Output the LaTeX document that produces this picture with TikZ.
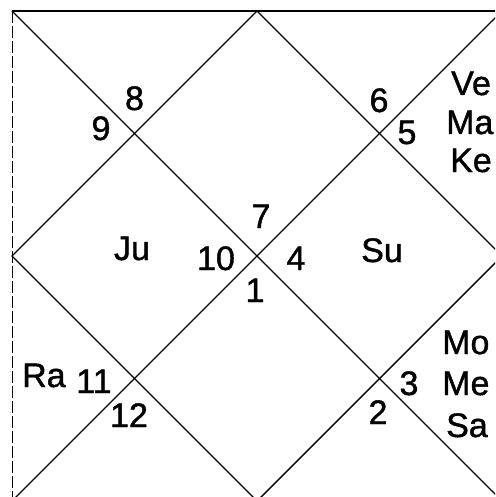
\documentclass[tikz,border=0pt]{standalone}
\usepackage{fontspec}
\setmainfont{Liberation Sans}
\newfontfamily\chartfont{Liberation Sans}[FakeBold=1.2]
\begin{document}
\begin{tikzpicture}[x=1pt,y=-1pt,
  chartline/.style={line width=1.4pt,line cap=round},
  topline/.style={line width=2pt},
  sideline/.style={line width=0.9pt,dash pattern=on 12pt off 3pt},
  lbl/.style={inner sep=0pt,font=\chartfont\fontsize{34}{38}\selectfont},
  num/.style={lbl,anchor=base},
  pl/.style={lbl,anchor=base west}]
\useasboundingbox (0,0) rectangle (495,497);
\clip (0,0) rectangle (495,497);
\coordinate (A) at (12,11);
\coordinate (B) at (502,11);
\coordinate (C) at (502,501);
\coordinate (D) at (12,501);
\coordinate (T) at (257,11);
\coordinate (R) at (502,256);
\coordinate (Bm) at (257,501);
\coordinate (L) at (12,256);
% frame
\draw[topline] (A) -- (B);
\draw[chartline] (B) -- (C) -- (D);
\draw[sideline] (A) -- (D);
% diagonals
\draw[chartline] (A) -- (C);
\draw[chartline] (B) -- (D);
% diamond
\draw[chartline] (T) -- (R) -- (Bm) -- (L) -- cycle;
% house numbers
\node[num] (n9) at (101,140) {9};
\node[num] (n8) at (134.5,110) {8};
\node[num] (n6) at (379,112) {6};
\node[num] (n5) at (407,144) {5};
\node[num] (n7) at (261,228) {7};
\node[num] (n10) at (216,270) {10};
\node[num] (n4) at (296,270) {4};
\node[num] (n1) at (255,302) {1};
\node[num] (n3) at (409,395) {3};
\node[num] (n2) at (378,424) {2};
\node[num] (n11) at (94,393) {11};
\node[num] (n12) at (129,427) {12};
% planets
\node[num] (ju) at (132,260) {Ju};
\node[num] (su) at (382,262) {Su};
\node[pl] (ra) at (22,387) {Ra};
\node[pl] (ve) at (451,95) {Ve};
\node[pl] (ma) at (446,134) {Ma};
\node[pl] (ke) at (450,172) {Ke};
\node[pl] (mo) at (442,354) {Mo};
\node[pl] (me) at (442,395) {Me};
\node[pl] (sa) at (446,437) {Sa};
\end{tikzpicture}
\end{document}
